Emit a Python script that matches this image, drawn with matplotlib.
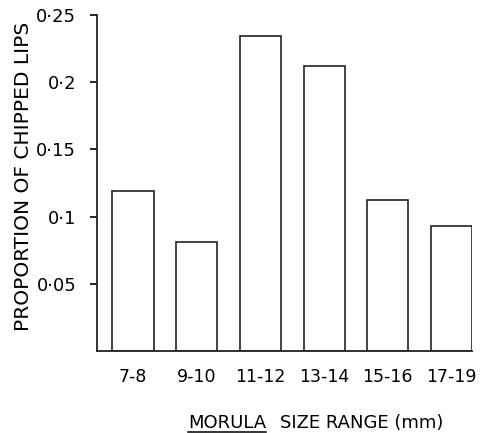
import matplotlib.pyplot as plt
from matplotlib.lines import Line2D
import numpy as np

# data
size_ranges = ["7-8", "9-10", "11-12", "13-14", "15-16", "17-19"]
proportions = [0.119, 0.081, 0.234, 0.212, 0.112, 0.093]
y_ticks = [0.05, 0.1, 0.15, 0.2, 0.25]
y_tick_labels = ["0·05", "0·1", "0·15", "0·2", "0·25"]

plt.rcParams['font.family'] = ['DejaVu Sans']

W, H = 481, 433
fig = plt.figure(figsize=(W / 100, H / 100), dpi=100)
ax = fig.add_axes([0.2017, 0.1894, 0.7796, 0.776])

x = np.arange(len(size_ranges))
ax.bar(x, proportions, width=0.645, facecolor="white",
       edgecolor="#222222", linewidth=1.2)

ax.set_xlim(-0.565, len(size_ranges) - 1 + 0.3225)
ax.set_ylim(0, 0.25)

ax.set_yticks(y_ticks)
ax.set_yticklabels(y_tick_labels, fontsize=13)
ax.set_xticks(x)
ax.set_xticklabels(size_ranges, fontsize=12.5)
ax.tick_params(axis="x", length=0, pad=12)
ax.tick_params(axis="y", length=5, width=1.2, direction="out", pad=10)

for side in ["top", "right"]:
    ax.spines[side].set_visible(False)
for side in ["left", "bottom"]:
    ax.spines[side].set_linewidth(1.3)
    ax.spines[side].set_color("#222222")

ax.set_ylabel("PROPORTION OF CHIPPED LIPS", fontsize=14.5)
ax.yaxis.set_label_coords(-0.17, 0.52)

# x label, with MORULA underlined
t1 = fig.text(188 / W, 1 - 428 / H, "MORULA", fontsize=13, ha="left", va="baseline")
fig.text(280 / W, 1 - 428 / H, "SIZE RANGE (mm)", fontsize=13, ha="left", va="baseline")
fig.canvas.draw()
bb = t1.get_window_extent().transformed(fig.transFigure.inverted())
uy = 1 - 432 / H
fig.add_artist(Line2D([bb.x0, bb.x1], [uy, uy], transform=fig.transFigure,
                      color="black", linewidth=1.1))

plt.savefig("out.png", dpi=100)
